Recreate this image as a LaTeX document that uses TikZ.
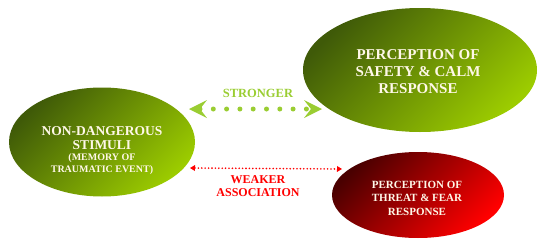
\documentclass[tikz,border=0pt]{standalone}
\usepackage{fontspec}
\setmainfont{Liberation Serif}[BoldFont={Liberation Serif Bold}]
\usetikzlibrary{arrows.meta,shapes.geometric}
\definecolor{gdark}{HTML}{3F5A08}
\definecolor{glight}{HTML}{9CCC00}
\definecolor{rdark}{HTML}{4A0000}
\definecolor{rlight}{HTML}{FF0000}
\definecolor{strongtxt}{HTML}{9ACD32}
\definecolor{eltxt}{HTML}{FFF8E8}
\tikzset{
  greenell/.style={ellipse, inner sep=0pt, top color=gdark, bottom color=glight, shading angle=45},
  redell/.style={ellipse, inner sep=0pt, top color=rdark, bottom color=rlight, shading angle=45},
  eltext/.style={text=eltxt, align=center},
  strongtip/.style={Stealth[length=18pt 0 0, width=18pt 0 0, inset=7pt 0 0, line width=0pt, fill=strongtxt]},
  strongline/.style={draw=strongtxt, line width=5pt, line cap=round, dash pattern=on 0pt off 13.3pt,
    {Stealth[length=18pt 0 0, width=18pt 0 0, inset=7pt 0 0, line width=0pt, fill=strongtxt]}-{Stealth[length=18pt 0 0, width=18pt 0 0, inset=7pt 0 0, line width=0pt, fill=strongtxt]}},
  weakline/.style={draw=rlight, line width=1.8pt, line cap=round, dash pattern=on 0pt off 3.4pt,
    {Triangle[length=5pt 0 0, width=6pt 0 0, line width=0pt, fill=rlight]}-{Triangle[length=5pt 0 0, width=6pt 0 0, line width=0pt, fill=rlight]}},
}
\begin{document}
\begin{tikzpicture}[x=1pt, y=-1pt]
\useasboundingbox (0,0) rectangle (550,244);
\node[greenell, minimum width=186pt, minimum height=109pt] (L) at (102,142) {};
\node[greenell, minimum width=234pt, minimum height=124pt] (TR) at (420,70) {};
\node[redell, minimum width=172pt, minimum height=86pt] (BR) at (418,195) {};
\node[eltext, font=\fontsize{13.5}{14}\selectfont\bfseries] (Lt1) at (102,138) {NON-DANGEROUS\\STIMULI};
\node[eltext, font=\fontsize{10}{12.5}\selectfont\bfseries] (Lt2) at (102,164) {(MEMORY OF\\TRAUMATIC EVENT)};
\node[eltext, font=\fontsize{15}{17}\selectfont\bfseries] (TRt) at (418,72) {PERCEPTION OF\\SAFETY \& CALM\\RESPONSE};
\node[eltext, font=\fontsize{11}{13.5}\selectfont\bfseries] (BRt) at (417,198) {PERCEPTION OF\\THREAT \& FEAR\\RESPONSE};
\node[text=strongtxt, font=\fontsize{12.5}{14}\selectfont\bfseries] (st) at (258,93) {STRONGER};
\node[text=rlight, font=\fontsize{12}{13}\selectfont\bfseries, align=center] (wt) at (258,186) {WEAKER\\ASSOCIATION};
\coordinate (sA) at (189,109);
\coordinate (sB) at (322,109);
\coordinate (wA) at (190,168);
\coordinate (wB) at (342,169);
\draw[strongline] (sA) -- (sB);
\draw[weakline] (wA) -- (wB);
\end{tikzpicture}
\end{document}
